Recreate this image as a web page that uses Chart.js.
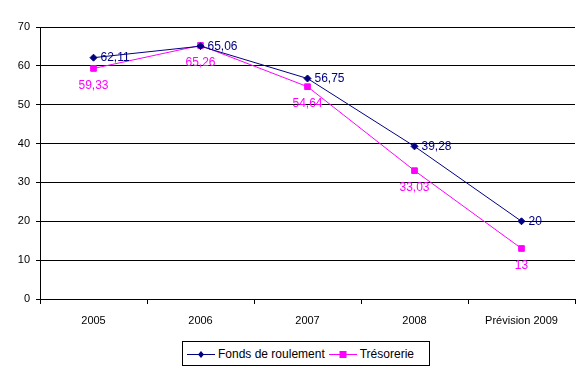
<!DOCTYPE html>
<html><head><meta charset="utf-8">
<script src="https://cdn.jsdelivr.net/npm/chart.js@4/dist/chart.umd.min.js"></script>
<style>
html,body{margin:0;padding:0;background:#fff;}
#wrap{position:relative;width:588px;height:373px;}
#legend{position:absolute;left:182px;top:341px;width:246px;height:23px;border:1px solid #000;background:#fff;
font-family:"Liberation Sans",Arial,sans-serif;font-size:12px;color:#000;display:flex;align-items:center;box-sizing:content-box;}
.item{display:flex;align-items:center;margin-left:4px;}
.item canvas{margin-right:3px;}
</style></head><body>
<div id="wrap"><canvas id="c" width="588" height="373"></canvas>
<div id="legend"></div></div>
<script>
const categories = ["2005","2006","2007","2008","Prévision 2009"];
const fondsRoulement = [62.11, 65.06, 56.75, 39.28, 20];
const tresorerie = [59.33, 65.26, 54.64, 33.03, 13];
const yTicks = [0,10,20,30,40,50,60,70];
const seriesNames = ["Fonds de roulement","Trésorerie"];
const NAVY = "#000080", MAG = "#FF00FF";
const FONT = '"Liberation Sans", Arial, sans-serif';

const fmt = v => String(v).replace('.', ',');

const labelPlugin = {
  id: 'vals',
  afterDatasetsDraw(chart) {
    const ctx = chart.ctx;
    ctx.save();
    ctx.font = '12px ' + FONT;
    chart.data.datasets.forEach((ds, di) => {
      const meta = chart.getDatasetMeta(di);
      meta.data.forEach((pt, i) => {
        const t = fmt(ds.data[i]);
        if (di === 0) {
          ctx.fillStyle = NAVY; ctx.textAlign = 'left'; ctx.textBaseline = 'middle';
          ctx.fillText(t, pt.x + 7, pt.y);
        } else {
          ctx.fillStyle = MAG; ctx.textAlign = 'center'; ctx.textBaseline = 'middle';
          ctx.fillText(t, pt.x, pt.y + 17);
        }
      });
    });
    ctx.restore();
  }
};

new Chart(document.getElementById('c'), {
  type: 'line',
  data: {
    labels: categories,
    datasets: [
      {label: seriesNames[0], data: fondsRoulement, borderColor: NAVY, backgroundColor: NAVY, borderWidth: 1,
       pointStyle: 'rectRot', pointRadius: 3.5, pointHoverRadius: 3.5, tension: 0},
      {label: seriesNames[1], data: tresorerie, borderColor: MAG, backgroundColor: MAG, borderWidth: 1,
       pointStyle: 'rect', pointRadius: 4, pointHoverRadius: 4, tension: 0}
    ]
  },
  options: {
    responsive: false, animation: false, devicePixelRatio: 1,
    layout: {padding: {left: 0, top: 27, right: 13, bottom: 0}},
    plugins: {legend: {display: false}, tooltip: {enabled: false}},
    scales: {
      x: {
        offset: true,
        grid: {offset: true, drawOnChartArea: false, drawTicks: true, tickLength: 5, color: '#000', tickColor: '#000'},
        border: {color: '#000', width: 1},
        ticks: {color: '#000', font: {family: FONT, size: 11}, padding: 10, maxRotation: 0},
        afterFit(s) { s.height = 74; }
      },
      y: {
        min: 0, max: 70,
        afterBuildTicks(s) { s.ticks = yTicks.map(v => ({value: v})); },
        grid: {color: '#000', tickLength: 4, tickColor: '#000', lineWidth: 1},
        border: {color: '#000', width: 1},
        ticks: {color: '#000', font: {family: FONT, size: 11}, padding: 6},
        afterFit(s) { s.width = 40; }
      }
    }
  },
  plugins: [labelPlugin]
});

// HTML legend
const leg = document.getElementById('legend');
[[seriesNames[0], NAVY, 'diamond'], [seriesNames[1], MAG, 'square']].forEach(([name, col, shape]) => {
  const it = document.createElement('div'); it.className = 'item';
  const cv = document.createElement('canvas'); cv.width = 28; cv.height = 10;
  const g = cv.getContext('2d');
  g.strokeStyle = col; g.lineWidth = 1;
  g.beginPath(); g.moveTo(0, 5.5); g.lineTo(28, 5.5); g.stroke();
  g.fillStyle = col;
  if (shape === 'diamond') { g.beginPath(); g.moveTo(14,2); g.lineTo(17,5.5); g.lineTo(14,9); g.lineTo(11,5.5); g.closePath(); g.fill(); }
  else { g.fillRect(10.5, 2, 7, 7); }
  const sp = document.createElement('span'); sp.textContent = name;
  it.appendChild(cv); it.appendChild(sp); leg.appendChild(it);
});
</script></body></html>
